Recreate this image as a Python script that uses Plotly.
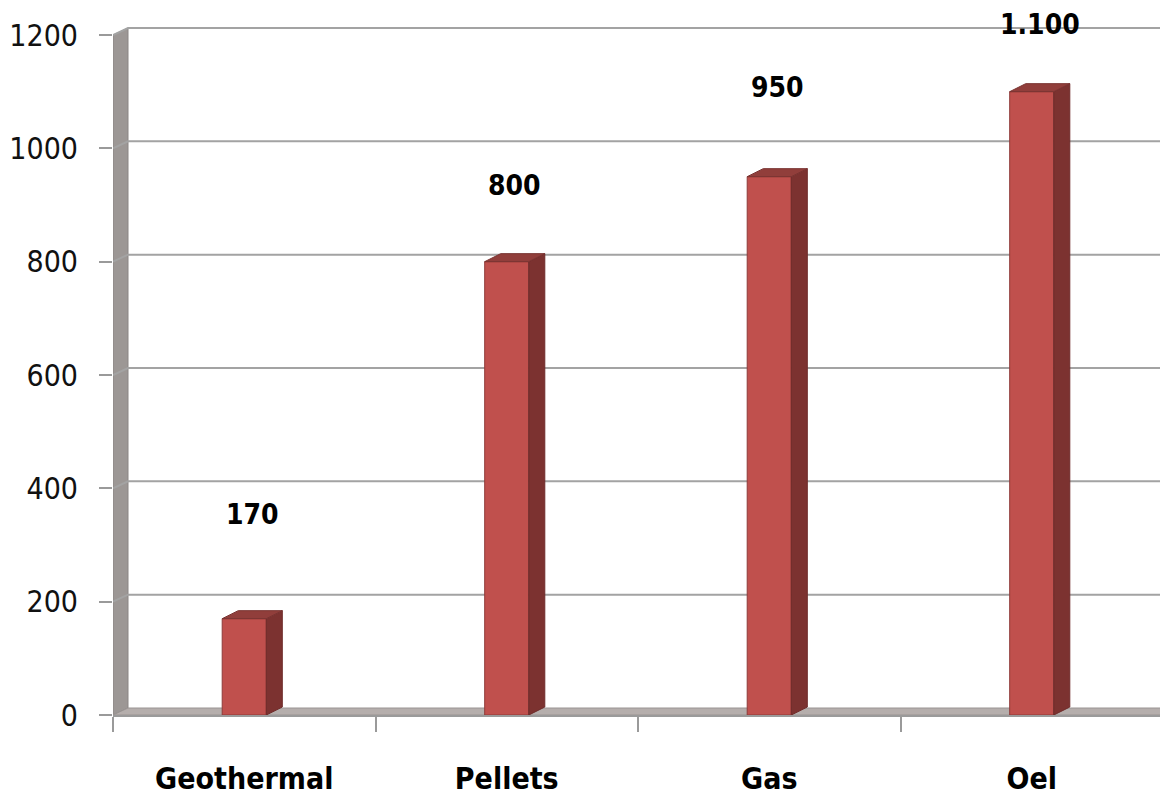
import plotly.graph_objects as go

categories = ["Geothermal", "Pellets", "Gas", "Oel"]
values = [170, 800, 950, 1100]
value_labels = ["170", "800", "950", "1.100"]
y_ticks = [0, 200, 400, 600, 800, 1000, 1200]

# label offsets above bar tops (pixels), styling only
label_yshift = [104, 76, 89, 67]

# layout geometry (pixels); the page body adds an 8px margin
PAGE_OFF = 8
W, H = 1168 - PAGE_OFF, 802 - PAGE_OFF
M_L, M_R, M_T, M_B = 113 - PAGE_OFF, 0, 0, H - (715 - PAGE_OFF)
plot_w = W - M_L - M_R
plot_h = H - M_T - M_B
top_gap = 35 - PAGE_OFF          # pixels from plot top to the 1200 tick
px_per_cat = 262.5
x_range = [-0.5, -0.5 + plot_w / px_per_cat]
y_top = 1200 * plot_h / (plot_h - top_gap)
y_range = [0, y_top]
ux = 1 / px_per_cat          # x units per pixel
uy = y_top / plot_h          # y units per pixel

wall_dx, wall_dy = 15 * ux, 7 * uy
bar_dx, bar_dy = 16 * ux, 8 * uy
bar_w = 0.168

FRONT = "#c0504d"
SIDE = "#7c3230"
TOP = "#913e3b"
EDGE = "#8e3b39"
GRID = "#a3a3a3"
WALL = "#9c9795"
FLOOR = "#b5aeac"
FONT = "Liberation Sans Narrow, DejaVu Sans Condensed, Roboto, sans-serif"

fig = go.Figure()
shapes = []

# left wall
x0 = x_range[0]
shapes.append(dict(type="path", xref="x", yref="y", layer="below",
                   path=f"M {x0} 0 L {x0} {y_ticks[-1]} L {x0 + wall_dx} {y_ticks[-1] + wall_dy} "
                        f"L {x0 + wall_dx} {wall_dy} Z",
                   fillcolor=WALL, line=dict(color="#8a8584", width=1)))
# floor
x1 = x_range[1]
shapes.append(dict(type="path", xref="x", yref="y", layer="below",
                   path=f"M {x0} 0 L {x1} 0 L {x1} {wall_dy} L {x0 + wall_dx} {wall_dy} Z",
                   fillcolor=FLOOR, line=dict(color="#9a9493", width=1)))
# gridlines on the back wall (diagonal across the side wall)
for v in y_ticks[1:]:
    shapes.append(dict(type="path", xref="x", yref="y", layer="below",
                       path=f"M {x0} {v} L {x0 + wall_dx} {v + wall_dy} L {x1} {v + wall_dy}",
                       line=dict(color=GRID, width=2)))

# bars: front faces
xs = list(range(len(categories)))
fig.add_trace(go.Bar(x=xs, y=values, width=bar_w,
                     marker=dict(color=FRONT, line=dict(color=EDGE, width=1)),
                     hoverinfo="skip", showlegend=False))
# side and top faces
for i, v in enumerate(values):
    l = i - bar_w / 2
    r = i + bar_w / 2
    fig.add_trace(go.Scatter(
        x=[r, r + bar_dx, r + bar_dx, r, r],
        y=[0, bar_dy, v + bar_dy, v, 0],
        fill="toself", fillcolor=SIDE, mode="lines",
        line=dict(color="#6e2b2a", width=1), hoverinfo="skip", showlegend=False))
    fig.add_trace(go.Scatter(
        x=[l, l + bar_dx, r + bar_dx, r, l],
        y=[v, v + bar_dy, v + bar_dy, v, v],
        fill="toself", fillcolor=TOP, mode="lines",
        line=dict(color="#7a3331", width=1), hoverinfo="skip", showlegend=False))
    fig.add_annotation(x=i + bar_dx / 2, y=v, text=f"<b>{value_labels[i]}</b>",
                       showarrow=False, yshift=label_yshift[i], xref="x", yref="y",
                       font=dict(family=FONT, size=28, color="#000000"))

fig.update_layout(
    width=W, height=H,
    margin=dict(l=M_L, r=M_R, t=M_T, b=M_B, autoexpand=False),
    paper_bgcolor="white", plot_bgcolor="white",
    shapes=shapes,
    xaxis=dict(range=x_range, tickmode="array", tickvals=xs,
               ticktext=[f"<b>{c}</b>" for c in categories],
               ticks="", showgrid=False, zeroline=False, automargin=False,
               showline=True, linecolor="#9a9a9a", linewidth=2,
               tickfont=dict(family=FONT, size=30, color="#000000"),
               ticklabelstandoff=36,
               minor=dict(tickmode="array", tickvals=[i - 0.5 for i in range(len(categories) + 1)],
                          ticks="outside", ticklen=15, tickwidth=2, tickcolor="#9a9a9a",
                          showgrid=False)),
    yaxis=dict(range=y_range, tickmode="array", tickvals=y_ticks,
               ticks="outside", ticklen=13, tickwidth=2, tickcolor="#9a9a9a",
               showgrid=False, zeroline=False, showline=False, automargin=False,
               tickfont=dict(family=FONT, size=30, color="#111111"),
               ticklabelstandoff=15),
)

fig.write_html("out.html")
